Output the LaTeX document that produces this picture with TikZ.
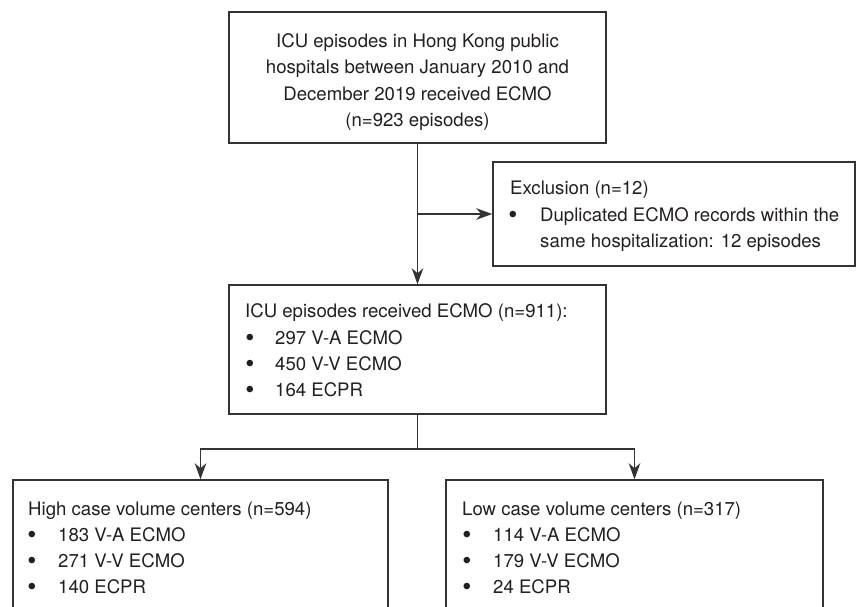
\documentclass[tikz,border=0pt]{standalone}
\usepackage{fontspec}
\setmainfont{TeX Gyre Heros}
\usetikzlibrary{arrows.meta,calc}
\definecolor{ink}{HTML}{231F20}
\definecolor{linec}{HTML}{333333}
\tikzset{
  boxnode/.style={draw=linec, line width=1.5pt, rectangle, inner sep=0pt},
  txt/.style={text=ink, inner sep=0pt, anchor=base west, font=\fontsize{18.6}{26.5}\selectfont},
  bul/.style={text=ink, inner sep=0pt, anchor=base, font=\fontsize{26}{26.5}\selectfont},
  conn/.style={draw=linec, line width=1.5pt},
  arr/.style={conn, -{Stealth[length=16pt,width=11.5pt,inset=5pt]}}
}
\begin{document}
\begin{tikzpicture}[x=1pt,y=-1pt]
\useasboundingbox (0,0) rectangle (857,606);
\clip (0,0) rectangle (857,606);
% boxes
\node[boxnode, minimum width=377pt, minimum height=131pt] (top) at (417.5,77.5) {};
\node[boxnode, minimum width=362pt, minimum height=104pt] (excl) at (674,214) {};
\node[boxnode, minimum width=377pt, minimum height=129pt] (mid) at (417.5,349.5) {};
\node[boxnode, minimum width=375pt, minimum height=180pt] (bl) at (200.5,570) {};
\node[boxnode, minimum width=377pt, minimum height=180pt] (br) at (634.5,570) {};
% top text
\node[text=ink, inner sep=0pt, anchor=north, align=center, font=\fontsize{18.6}{26.5}\selectfont] (toptext) at (417.5,33.3)
  {ICU episodes in Hong Kong public\\hospitals between January 2010 and\\December 2019 received ECMO\\(n=923 episodes)};
% exclusion text
\node[txt] (e0) at (510,194.3) {Exclusion (n=12)};
\node[bul] (eb1) at (513,223) {\textbullet};
\node[txt] (e1) at (540,221) {Duplicated ECMO records within the};
\node[txt] (e2) at (540,247.5) {same hospitalization: 12 episodes};
% middle text
\node[txt] (m0) at (245,317.5) {ICU episodes received ECMO (n=911):};
\node[bul] (mb1) at (250,346) {\textbullet};
\node[txt] (m1) at (275,344) {297 V-A ECMO};
\node[bul] (mb2) at (250,372.3) {\textbullet};
\node[txt] (m2) at (275,370.3) {450 V-V ECMO};
\node[bul] (mb3) at (250,398.6) {\textbullet};
\node[txt] (m3) at (275,396.6) {164 ECPR};
% bottom left text
\node[txt] (l0) at (28,515) {High case volume centers (n=594)};
\node[bul] (lb1) at (32,543) {\textbullet};
\node[txt] (l1) at (58,541) {183 V-A ECMO};
\node[bul] (lb2) at (32,569.3) {\textbullet};
\node[txt] (l2) at (58,567.3) {271 V-V ECMO};
\node[bul] (lb3) at (32,595.3) {\textbullet};
\node[txt] (l3) at (58,593.3) {140 ECPR};
% bottom right text
\node[txt] (r0) at (462,515) {Low case volume centers (n=317)};
\node[bul] (rb1) at (467,543) {\textbullet};
\node[txt] (r1) at (493,541) {114 V-A ECMO};
\node[bul] (rb2) at (467,569.3) {\textbullet};
\node[txt] (r2) at (493,567.3) {179 V-V ECMO};
\node[bul] (rb3) at (467,595.3) {\textbullet};
\node[txt] (r3) at (493,593.3) {24 ECPR};
% connectors
\draw[arr] (top.south) -- (mid.north);
\draw[arr] (top.south |- excl.west) -- (excl.west);
\coordinate (split) at ($(mid.south)+(0,34)$);
\draw[conn] (mid.south) -- (split);
\draw[arr] (split) -| (bl.north);
\draw[arr] (split) -| (br.north);
\end{tikzpicture}
\end{document}
